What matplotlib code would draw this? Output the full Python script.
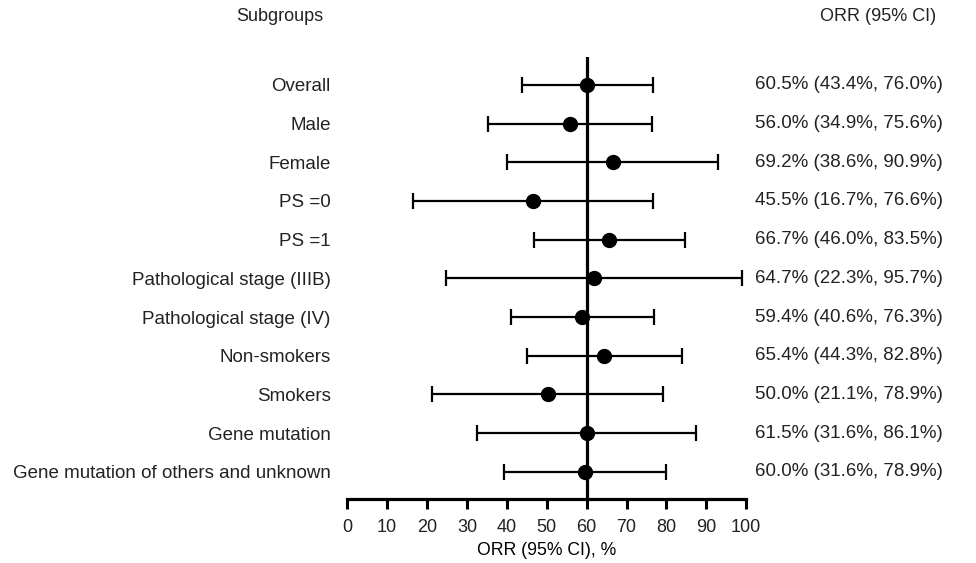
"""
Forest plot of ORR (95% CI) by subgroup.
Saves out.png
"""

import matplotlib.pyplot as plt

plt.rcParams['font.family'] = ['Liberation Sans', 'DejaVu Sans']

# Data
subgroups = ['Overall', 'Male', 'Female', 'PS =0', 'PS =1',
             'Pathological stage (IIIB)', 'Pathological stage (IV)',
             'Non-smokers', 'Smokers', 'Gene mutation',
             'Gene mutation of others and unknown']
orr = [60.2, 55.8, 66.5, 46.5, 65.7, 61.8, 58.9, 64.4, 50.2, 60.0, 59.6]
ci_low = [43.9, 35.3, 40.1, 16.4, 46.8, 24.7, 41.1, 45.1, 21.2, 32.6, 39.4]
ci_high = [76.7, 76.3, 92.9, 76.6, 84.6, 99.0, 76.9, 83.8, 79.2, 87.5, 79.8]
orr_text = ['60.5% (43.4%, 76.0%)', '56.0% (34.9%, 75.6%)',
            '69.2% (38.6%, 90.9%)', '45.5% (16.7%, 76.6%)',
            '66.7% (46.0%, 83.5%)', '64.7% (22.3%, 95.7%)',
            '59.4% (40.6%, 76.3%)', '65.4% (44.3%, 82.8%)',
            '50.0% (21.1%, 78.9%)', '61.5% (31.6%, 86.1%)',
            '60.0% (31.6%, 78.9%)']
ref_value = 60
xticks = list(range(0, 101, 10))


def main():
    fig = plt.figure(figsize=(9.76, 5.63), dpi=100)
    ax = fig.add_axes([0.3558, 0.1131, 0.4088, 0.7857])

    rows = list(range(len(subgroups)))
    err = [[o - lo for o, lo in zip(orr, ci_low)],
           [hi - o for o, hi in zip(orr, ci_high)]]

    # reference line
    ax.axvline(ref_value, color='black', lw=2.3, zorder=1)

    ax.errorbar(orr, rows, xerr=err, fmt='o', color='black',
                ms=10, elinewidth=1.6, capsize=6, capthick=1.6, zorder=3)

    ax.set_xlim(0, 100)
    ax.set_ylim(10.71, -0.72)
    ax.set_xticks(xticks)
    ax.set_xticklabels([str(t) for t in xticks], fontsize=13)
    ax.set_xlabel('ORR (95% CI), %', fontsize=12.7, labelpad=4)

    ax.set_yticks(rows)
    ax.set_yticklabels(subgroups, fontsize=13.5, color='#222222')
    ax.tick_params(axis='y', length=0, pad=12)
    ax.tick_params(axis='x', length=7.5, width=2.2, pad=7,
                   labelcolor='#222222')

    for side in ['left', 'top', 'right']:
        ax.spines[side].set_visible(False)
    ax.spines['bottom'].set_linewidth(2.3)

    # ORR text column on the right
    for r, txt in zip(rows, orr_text):
        ax.text(1.0218, r, txt, transform=ax.get_yaxis_transform(),
                ha='left', va='center', fontsize=13.5, color='#222222',
                clip_on=False)

    # column headers
    fig.text(0.287, 1 - 21 / 563, 'Subgroups', ha='center', va='baseline',
             fontsize=13, color='#222222')
    fig.text(0.8996, 1 - 21 / 563, 'ORR (95% CI)', ha='center',
             va='baseline', fontsize=13, color='#222222')

    fig.savefig('out.png', dpi=100)


if __name__ == '__main__':
    main()
